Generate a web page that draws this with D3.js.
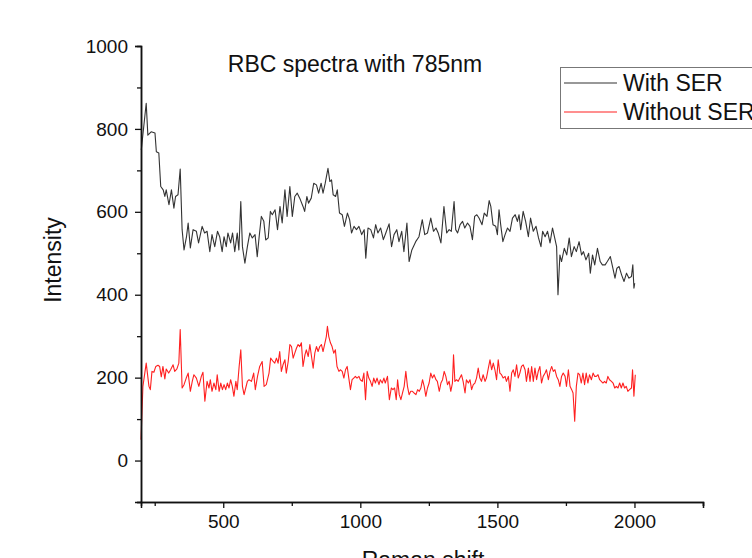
<!DOCTYPE html>
<html>
<head>
<meta charset="utf-8">
<script src="https://cdn.jsdelivr.net/npm/d3@7"></script>
<style>
  body { margin: 0; background: #fff; }
  svg { display: block; font-family: "Liberation Sans", Arial, sans-serif; }
</style>
</head>
<body>
<div id="chart"></div>
<script>
// Raman shift / intensity pairs
var withSerX = [201,219,225,237,251,256,265,272,281,287,292,302,311,320,326,335,343,350,357,366,372,380,390,402,410,423,432,441,451,459,469,479,487,496,503,511,517,527,534,542,551,557,564,570,579,588,597,606,616,624,631,639,648,655,664,672,679,689,698,707,715,725,733,743,752,761,770,779,791,797,805,811,821,830,840,848,857,864,872,882,889,895,901,910,916,924,934,942,953,961,968,977,986,995,1005,1014,1020,1028,1038,1048,1056,1064,1074,1084,1093,1105,1114,1123,1133,1141,1151,1159,1170,1178,1188,1202,1214,1226,1235,1245,1257,1267,1276,1284,1294,1305,1315,1324,1332,1342,1348,1355,1364,1373,1381,1391,1400,1409,1417,1425,1433,1444,1452,1462,1470,1476,1484,1494,1500,1506,1512,1520,1528,1537,1546,1555,1565,1573,1579,1585,1594,1603,1613,1621,1631,1641,1650,1659,1665,1674,1683,1692,1701,1709,1716,1721,1728,1734,1744,1753,1762,1770,1780,1788,1798,1807,1814,1823,1833,1839,1847,1855,1865,1875,1883,1893,1901,1912,1920,1929,1936,1944,1953,1962,1971,1980,1989,1994,1998,2001]
var withSerY = [749,862,785,793,790,745,742,661,653,637,653,617,653,609,637,641,703,557,508,540,573,513,557,553,525,565,549,553,504,545,516,553,540,504,540,516,549,525,549,504,549,508,625,516,476,516,549,537,545,492,540,589,577,532,537,601,593,605,557,613,573,653,589,661,589,637,645,633,613,601,637,621,633,669,665,645,669,645,669,705,673,677,641,637,653,597,593,565,597,581,549,565,557,565,545,557,488,561,557,537,569,549,561,533,549,571,516,545,557,528,553,504,573,480,508,528,540,581,545,549,585,553,561,549,525,613,549,557,553,625,557,549,569,577,561,573,565,533,589,593,585,569,597,589,627,613,569,565,545,605,569,528,545,561,553,585,593,577,593,557,601,577,540,585,553,565,537,516,553,540,553,525,561,537,516,400,496,480,512,496,537,492,516,504,528,496,504,484,500,452,496,472,512,480,472,472,480,492,468,440,464,468,448,432,452,440,444,472,416,428]

var withoutSerX = [200,207,219,229,234,240,247,254,262,268,274,280,287,292,301,308,317,323,331,338,343,350,357,365,372,380,387,393,402,411,420,426,433,441,448,453,459,466,473,478,485,491,497,503,509,515,521,527,533,539,546,551,558,564,570,576,582,588,594,603,611,617,625,633,642,649,657,667,673,682,688,694,700,706,712,718,725,730,737,743,749,755,761,767,773,779,785,791,798,803,810,816,822,828,834,840,846,852,858,864,871,876,880,885,891,897,903,909,915,922,927,934,940,946,952,958,964,970,976,982,988,995,1000,1007,1013,1019,1025,1031,1037,1043,1049,1055,1061,1068,1073,1080,1086,1091,1099,1106,1113,1119,1125,1131,1136,1142,1148,1154,1160,1166,1172,1178,1184,1190,1196,1203,1209,1215,1221,1227,1233,1239,1245,1251,1257,1263,1269,1276,1281,1288,1294,1300,1306,1312,1318,1324,1330,1336,1340,1345,1351,1357,1363,1369,1375,1382,1387,1394,1400,1406,1412,1418,1424,1430,1436,1442,1448,1455,1460,1467,1473,1479,1485,1491,1497,1503,1509,1515,1521,1528,1533,1540,1546,1552,1558,1564,1570,1576,1582,1588,1594,1601,1606,1613,1619,1625,1631,1637,1643,1649,1655,1661,1667,1674,1679,1686,1692,1698,1704,1710,1716,1722,1728,1734,1740,1747,1752,1759,1765,1771,1776,1782,1788,1794,1800,1806,1812,1818,1824,1830,1836,1843,1849,1855,1861,1867,1873,1879,1885,1891,1897,1903,1909,1916,1922,1928,1934,1940,1946,1952,1958,1964,1970,1976,1982,1989,1993,1998,2003]
var withoutSerY = [50,179,235,179,171,215,213,227,230,227,202,227,197,221,211,219,231,215,221,235,316,175,183,199,211,167,191,207,199,179,203,213,143,191,175,195,167,187,171,207,167,187,171,183,171,187,175,195,179,155,191,171,227,267,179,159,175,191,195,191,211,171,203,227,239,179,183,211,247,239,235,247,235,263,215,231,243,211,239,280,275,247,259,271,280,275,284,227,255,267,251,280,251,223,259,275,263,275,280,263,284,299,324,299,284,275,259,267,227,215,219,215,199,219,227,199,171,195,199,203,199,203,195,191,211,147,215,199,191,179,199,187,199,183,195,187,199,187,203,147,175,171,175,147,195,159,147,163,179,215,179,159,167,167,163,159,171,167,175,195,179,155,175,187,211,199,207,195,191,167,187,195,215,203,183,191,167,187,255,191,195,191,199,207,191,163,195,187,195,171,183,187,199,223,199,191,207,191,199,223,243,219,235,219,195,243,211,207,199,203,191,203,167,211,219,203,231,199,211,227,231,219,191,223,191,227,191,223,195,215,227,187,203,211,219,195,215,227,215,219,203,195,179,203,211,203,179,219,179,171,163,95,179,211,207,187,211,183,211,187,207,195,211,203,203,207,195,191,187,191,187,203,195,191,187,175,179,175,187,175,187,175,179,167,171,175,219,155,207]

var xMajor = [500, 1000, 1500, 2000]
var xMinor = [250, 750, 1250, 1750, 2250]
var yMajor = [0, 200, 400, 600, 800, 1000]
var yMinor = [-100, 100, 300, 500, 700, 900]
var seriesNames = ["With SER", "Without SER"]
var seriesColors = ["#333333", "#ff2020"]

var width = 752, height = 558

var svg = d3.select("#chart").append("svg")
  .attr("width", width)
  .attr("height", height)

var x = d3.scaleLinear().domain([200, 2250]).range([141, 703])
var y = d3.scaleLinear().domain([-100, 1000]).range([502, 46])

function toPoints(xs, ys) {
  return xs.map(function (v, i) { return [v, ys[i]] })
}

var line = d3.line()
  .x(function (d) { return x(d[0]) })
  .y(function (d) { return y(d[1]) })

var series = [toPoints(withSerX, withSerY), toPoints(withoutSerX, withoutSerY)]

svg.selectAll(".series")
  .data(series)
  .enter()
  .append("path")
  .attr("class", "series")
  .attr("fill", "none")
  .attr("stroke", function (d, i) { return seriesColors[i] })
  .attr("stroke-width", 1.1)
  .attr("stroke-linejoin", "round")
  .attr("d", line)

// axes
var gx = svg.append("g").attr("transform", "translate(0," + y(-100) + ")")
gx.call(d3.axisBottom(x).tickValues(xMajor).tickSize(6).tickPadding(7).tickFormat(d3.format("d")))
var gxm = svg.append("g").attr("transform", "translate(0," + y(-100) + ")")
gxm.call(d3.axisBottom(x).tickValues(xMinor).tickSize(4).tickFormat(""))

var gy = svg.append("g").attr("transform", "translate(" + x(200) + ",0)")
gy.call(d3.axisLeft(y).tickValues(yMajor).tickSize(6).tickPadding(7).tickFormat(d3.format("d")))
var gym = svg.append("g").attr("transform", "translate(" + x(200) + ",0)")
gym.call(d3.axisLeft(y).tickValues(yMinor).tickSize(4).tickFormat(""))

svg.selectAll(".domain").attr("stroke", "#111").attr("stroke-width", 1.5)
svg.selectAll(".tick line").attr("stroke", "#111").attr("stroke-width", 1.3)
svg.selectAll(".tick text")
  .attr("fill", "#111")
  .style("font-size", "19px")
  .style("font-family", "Liberation Sans, Arial, sans-serif")

// titles
svg.append("text")
  .attr("x", 355)
  .attr("y", 72)
  .attr("text-anchor", "middle")
  .style("font-size", "23px")
  .attr("fill", "#111")
  .text("RBC spectra with 785nm")

svg.append("text")
  .attr("x", 423)
  .attr("y", 568)
  .attr("text-anchor", "middle")
  .style("font-size", "23px")
  .attr("fill", "#111")
  .text("Raman shift")

svg.append("text")
  .attr("transform", "translate(61,260) rotate(-90)")
  .attr("text-anchor", "middle")
  .style("font-size", "23px")
  .attr("fill", "#111")
  .text("Intensity")

// legend
var legend = svg.append("g").attr("transform", "translate(560,67)")
legend.append("rect")
  .attr("x", 0.5).attr("y", 0.5)
  .attr("width", 220).attr("height", 61)
  .attr("fill", "#fff")
  .attr("stroke", "#777")
  .attr("stroke-width", 1)

var item = legend.selectAll(".item")
  .data(seriesNames)
  .enter()
  .append("g")
  .attr("class", "item")
  .attr("transform", function (d, i) { return "translate(0," + (16 + i * 29) + ")" })

item.append("line")
  .attr("x1", 4).attr("x2", 57)
  .attr("y1", 0).attr("y2", 0)
  .attr("stroke", function (d, i) { return seriesColors[i] })
  .attr("stroke-width", 1.1)

item.append("text")
  .attr("x", 63)
  .attr("y", 8)
  .style("font-size", "23px")
  .attr("fill", "#111")
  .text(function (d) { return d })
</script>
</body>
</html>
